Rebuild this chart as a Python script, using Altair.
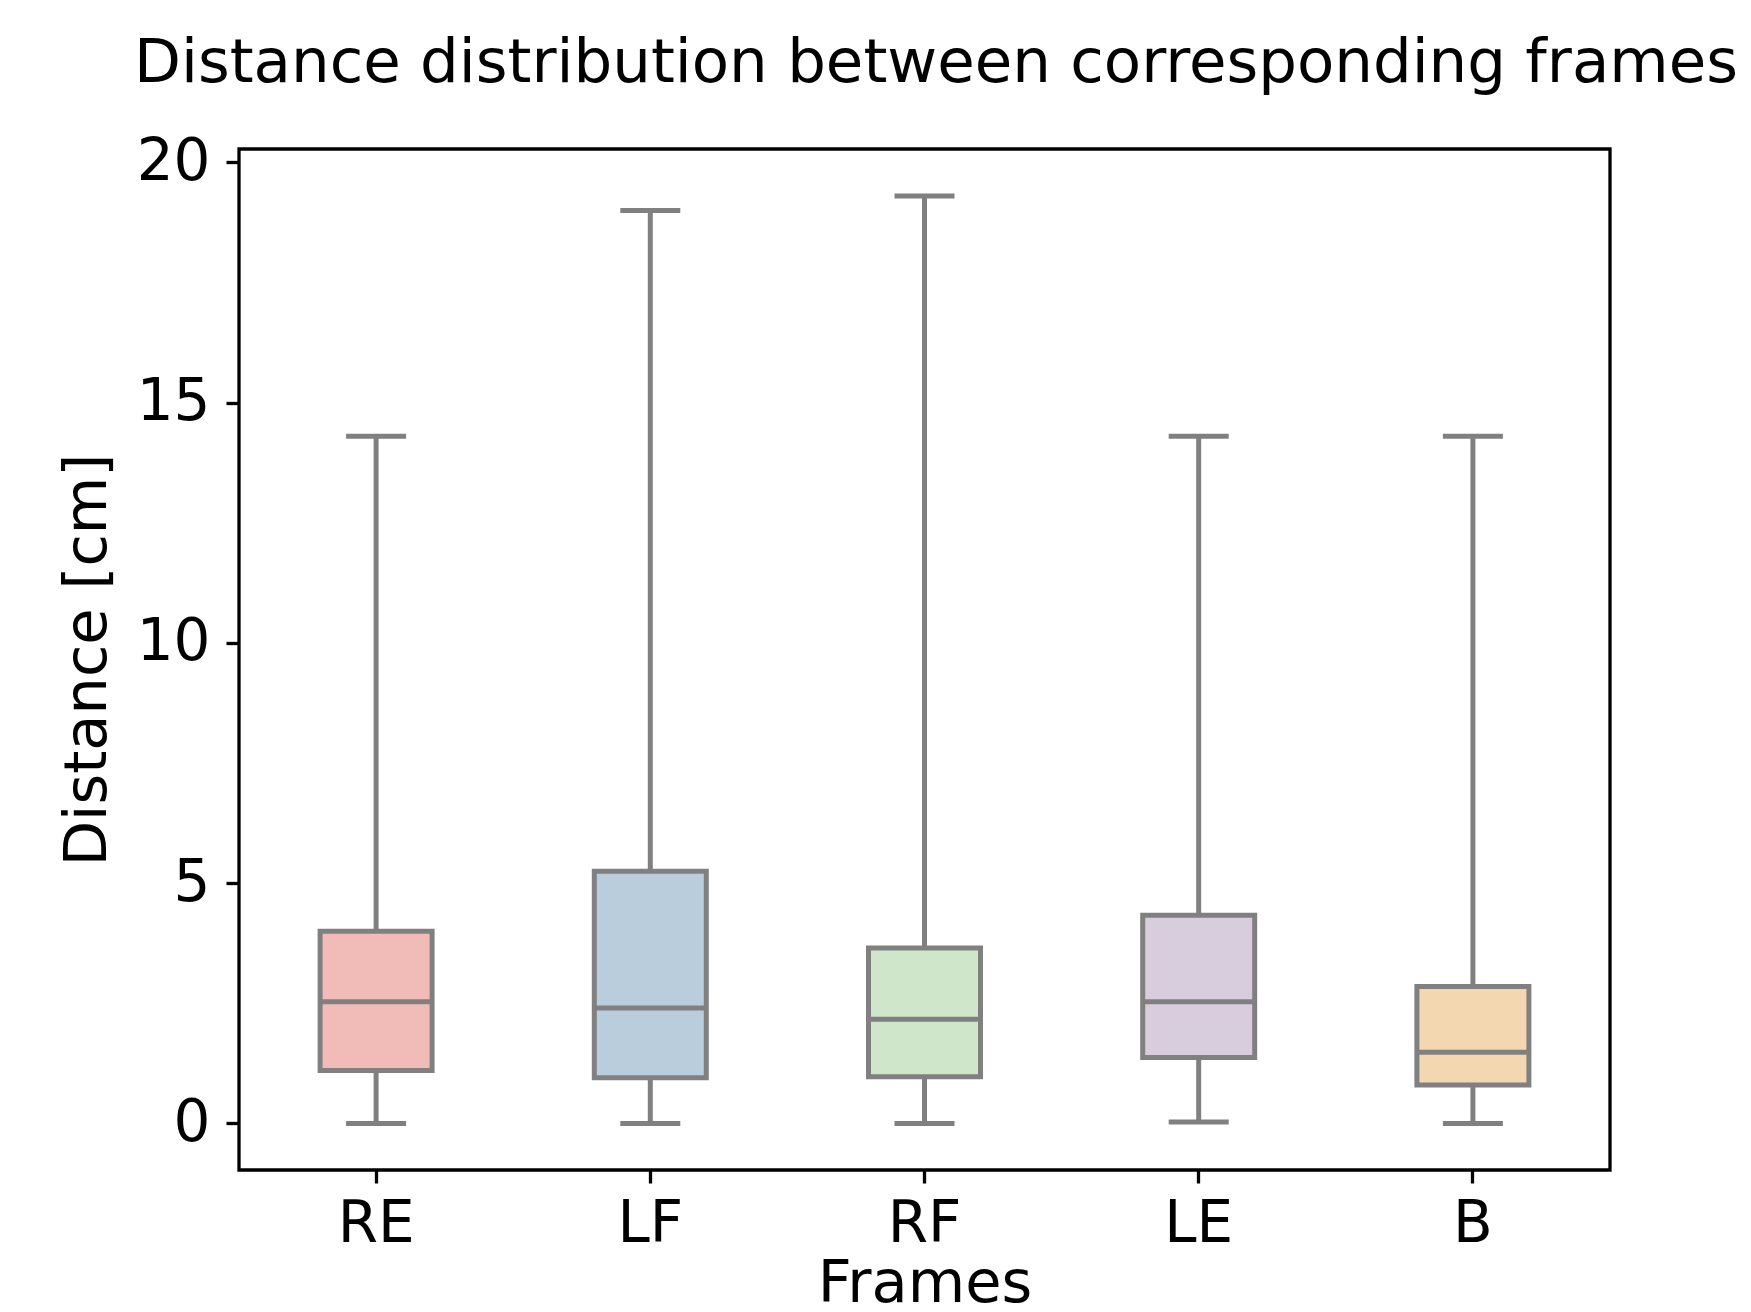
import altair as alt
import pandas as pd

frames = ["RE", "LF", "RF", "LE", "B"]
mins = [0.0, 0.0, 0.0, 0.03, 0.0]
q1s = [1.1, 0.95, 0.97, 1.37, 0.8]
medians = [2.53, 2.4, 2.17, 2.53, 1.48]
q3s = [4.0, 5.25, 3.65, 4.33, 2.85]
maxs = [14.3, 19.0, 19.3, 14.3, 14.3]
palette = ["#f1bcb8", "#b9cddd", "#cfe6ca", "#d8cddc", "#f3d7b1"]

df = pd.DataFrame({"frame": frames, "lo": mins, "q1": q1s, "med": medians, "q3": q3s, "hi": maxs})

FONT = "DejaVu Sans"
EDGE = "#808080"
LW = 5

x = alt.X("frame:N", sort=frames, title="Frames",
          scale=alt.Scale(paddingInner=0, paddingOuter=0),
          axis=alt.Axis(labelAngle=0, labelFontSize=58, titleFontSize=59,
                        labelFont=FONT, titleFont=FONT, labelColor="black",
                        titleColor="black", titleFontWeight="normal",
                        tickColor="black", tickWidth=3.3, tickSize=13,
                        labelPadding=12, titlePadding=1, domain=False, grid=False))
yscale = alt.Scale(domain=[-0.97, 20.28], nice=False, zero=False)
yaxis = alt.Axis(values=[0, 5, 10, 15, 20], labelFontSize=58, titleFontSize=59,
                 labelFont=FONT, titleFont=FONT, labelColor="black",
                 titleColor="black", titleFontWeight="normal",
                 tickColor="black", tickWidth=3.3, tickSize=13,
                 labelPadding=16, titlePadding=19, domain=False, grid=False)

base = alt.Chart(df)

whisk = base.mark_rule(color=EDGE, strokeWidth=LW).encode(
    x=x, y=alt.Y("lo:Q", scale=yscale, axis=yaxis, title="Distance [cm]"), y2="hi:Q")
box = base.mark_bar(size=112, stroke=EDGE, strokeWidth=LW).encode(
    x=x, y=alt.Y("q1:Q", scale=yscale), y2="q3:Q",
    color=alt.Color("frame:N", scale=alt.Scale(domain=frames, range=palette), legend=None))
med = base.mark_tick(color=EDGE, size=112, thickness=LW, opacity=1).encode(
    x=x, y=alt.Y("med:Q", scale=yscale))
caplo = base.mark_tick(color=EDGE, size=60, thickness=LW, opacity=1).encode(
    x=x, y=alt.Y("lo:Q", scale=yscale))
caphi = base.mark_tick(color=EDGE, size=60, thickness=LW, opacity=1).encode(
    x=x, y=alt.Y("hi:Q", scale=yscale))

chart = alt.layer(whisk, box, med, caplo, caphi).properties(
    width=1371, height=1021,
    padding={"left": 50, "top": 25, "right": 0, "bottom": 0},
    title=alt.TitleParams("Distance distribution between corresponding frames",
                          anchor="start", frame="group", dx=-105, offset=38,
                          fontSize=61, font=FONT, fontWeight="normal", color="black"),
).configure_view(stroke="black", strokeWidth=3.3)

chart.save("out.html", embed_options={"renderer": "svg", "actions": False})
